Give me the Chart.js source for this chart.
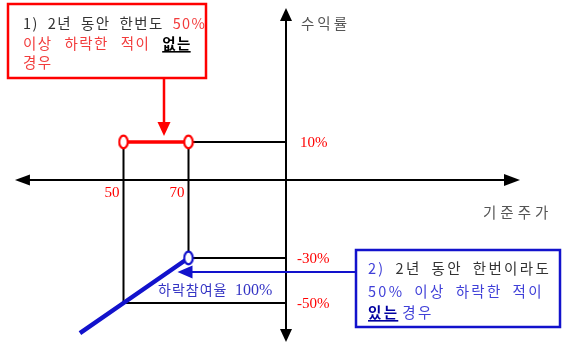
<!DOCTYPE html>
<html>
<head>
<meta charset="utf-8">
<script src="https://cdn.jsdelivr.net/npm/chart.js@4/dist/chart.umd.min.js"></script>
<style>
  html, body { margin: 0; padding: 0; background: #fff; }
  #wrap { width: 562px; height: 343px; }
</style>
</head>
<body>
<div id="wrap"><canvas id="c"></canvas></div>
<script>
// payoff of the ELS, price and return in %
const barrierPrices = [50, 70];
const basePrice = 100;
const returnLevels = [10, -30, -50];
const xTickLabels = ['50', '70'];
const yTickLabels = ['10%', '-30%', '-50%'];

// 1) never fell 50% -> 10% between 50 and 70
const couponX = [50, 70];
const couponY = [10, 10];
// 2) fell 50% at least once -> 100% downside participation
const lossX = [36.6, 50, 70];
const lossY = [-63.4, -50, -30];

// axis ends (arrow tips)
const axisX = [16.6, 172];
const axisY = [-67.3, 45.3];

// the drawing is not to scale on the return axis: value -> fraction of height
const yBreaks = [[47.4, 0], [10, 142 / 343], [0, 180 / 343], [-30, 258 / 343], [-50, 303 / 343], [-67.8, 1]];

class PiecewiseScale extends Chart.LinearScale {
  getPixelForValue(v) {
    const b = yBreaks;
    let i = 0;
    while (i < b.length - 2 && v < b[i + 1][0]) i++;
    const [v0, f0] = b[i], [v1, f1] = b[i + 1];
    const f = f0 + (v - v0) / (v1 - v0) * (f1 - f0);
    return this.top + f * (this.bottom - this.top);
  }
}
PiecewiseScale.id = 'piecewise';
PiecewiseScale.defaults = Chart.LinearScale.defaults;
Chart.register(PiecewiseScale);

const RED = '#ff0000';
const BLUE = '#1212cc';
const KR = '"Noto Sans CJK KR", "Noto Sans", sans-serif';
const SERIF = '"Liberation Serif", serif';

function ring(color) {
  const c = document.createElement('canvas');
  c.width = 12; c.height = 16;
  const g = c.getContext('2d');
  g.beginPath();
  g.ellipse(6, 8, 4.3, 6.3, 0, 0, Math.PI * 2);
  g.fillStyle = '#fff';
  g.fill();
  g.lineWidth = 2.2;
  g.strokeStyle = color;
  g.stroke();
  return c;
}

function seg(x0, y0, x1, y1) {
  return {
    data: [{x: x0, y: y0}, {x: x1, y: y1}],
    borderColor: '#000', borderWidth: 2, pointRadius: 0
  };
}

const guides = [
  seg(barrierPrices[0], returnLevels[0], barrierPrices[0], returnLevels[2]),
  seg(barrierPrices[1], returnLevels[0], barrierPrices[1], returnLevels[1]),
  seg(barrierPrices[1], returnLevels[0], basePrice, returnLevels[0]),
  seg(barrierPrices[1], returnLevels[1], basePrice, returnLevels[1]),
  seg(barrierPrices[0], returnLevels[2], basePrice, returnLevels[2])
];

function runs(ctx, x, y, parts, gap) {
  for (const [text, color, bold, ul] of parts) {
    ctx.font = (bold ? 'bold ' : '') + '14.5px ' + KR;
    ctx.fillStyle = color;
    text.split(' ').forEach((w, k) => {
      if (k > 0) x += gap;
      if (!w) return;
      ctx.fillText(w, x, y);
      const wd = ctx.measureText(w).width;
      if (ul) ctx.fillRect(x, y + 8, wd - 1, 1.6);
      x += wd;
    });
  }
}

function arrowHead(ctx, tx, ty, dx, dy, len, half) {
  // tip at (tx,ty), pointing along (dx,dy)
  const bx = tx - dx * len, by = ty - dy * len;
  ctx.beginPath();
  ctx.moveTo(tx, ty);
  ctx.lineTo(bx - dy * half, by + dx * half);
  ctx.lineTo(bx + dy * half, by - dx * half);
  ctx.closePath();
  ctx.fill();
}

const decor = {
  id: 'decor',
  beforeDatasetsDraw(chart) {
    const {ctx, scales: {x, y}} = chart;
    const ox = x.getPixelForValue(basePrice), oy = y.getPixelForValue(0);
    ctx.save();
    ctx.strokeStyle = '#000';
    ctx.fillStyle = '#000';
    ctx.lineWidth = 2;
    const l = x.getPixelForValue(axisX[0]), r = x.getPixelForValue(axisX[1]);
    const t = y.getPixelForValue(axisY[1]), b = y.getPixelForValue(axisY[0]);
    ctx.beginPath();
    ctx.moveTo(l + 8, oy); ctx.lineTo(r - 8, oy);
    ctx.moveTo(ox, t + 8); ctx.lineTo(ox, b - 8);
    ctx.stroke();
    arrowHead(ctx, l, oy, -1, 0, 15, 5.5);
    arrowHead(ctx, r, oy, 1, 0, 16, 6);
    arrowHead(ctx, ox, t, 0, -1, 13, 6);
    arrowHead(ctx, ox, b, 0, 1, 13, 6);
    ctx.restore();
  },
  afterDatasetsDraw(chart) {
    const {ctx, scales: {x, y}} = chart;
    ctx.save();
    ctx.textBaseline = 'middle';

    // tick labels
    ctx.font = '15px ' + SERIF;
    ctx.fillStyle = RED;
    ctx.textAlign = 'right';
    barrierPrices.forEach((p, i) => {
      ctx.fillText(xTickLabels[i], x.getPixelForValue(p) - 4, y.getPixelForValue(0) + 13);
    });
    ctx.textAlign = 'left';
    const ox = x.getPixelForValue(basePrice);
    returnLevels.forEach((v, i) => {
      ctx.fillText(yTickLabels[i], ox + (v > 0 ? 14 : 11), y.getPixelForValue(v) + 1);
    });

    // axis titles
    ctx.fillStyle = '#555';
    ctx.font = '14.5px ' + KR;
    ctx.letterSpacing = '3px';
    ctx.fillText('수익률', ox + 15, 23);
    ctx.letterSpacing = '4px';
    ctx.fillText('기준주가', 483, 212);

    // participation note
    ctx.fillStyle = '#3434c4';
    ctx.font = '14px ' + KR;
    ctx.letterSpacing = '1px';
    ctx.fillText('하락참여율', 158, 290);
    ctx.font = '16px ' + SERIF;
    ctx.letterSpacing = '0px';
    ctx.fillText('100%', 235, 291);

    // box 1
    ctx.strokeStyle = RED;
    ctx.lineWidth = 2.5;
    ctx.strokeRect(8, 4, 198, 74);
    ctx.letterSpacing = '1.4px';
    const pink = '#f23c3c', dark = '#333';
    runs(ctx, 23, 23, [['1) 2년 동안 한번도 ', dark], ['50%', pink]], 9);
    runs(ctx, 23, 43, [['이상 하락한 적이 ', pink], ['없는', '#000', true, true]], 12);
    runs(ctx, 23, 62, [['경우', pink]], 9);

    // arrow 1
    const ax = 164, tipY = y.getPixelForValue(couponY[0]) - 6;
    ctx.fillStyle = RED;
    ctx.fillRect(ax - 1.25, 78, 2.5, tipY - 78 - 10);
    arrowHead(ctx, ax, tipY, 0, 1, 14, 6.5);

    // box 2
    ctx.strokeStyle = BLUE;
    ctx.strokeRect(356, 250, 204, 77);
    ctx.letterSpacing = '2.3px';
    const lb = '#4040d8';
    runs(ctx, 368, 268, [['2) ', lb], ['2년 동안 한번이라도', dark]], 10);
    runs(ctx, 368, 291, [['50% 이상 하락한 적이', lb]], 10);
    runs(ctx, 368, 312, [['있는', '#0000a0', true, true], [' 경우', lb]], 3);

    // arrow 2
    const tipX = x.getPixelForValue(lossX[2]) - 11, ay = y.getPixelForValue(lossY[2]) + 14;
    ctx.fillStyle = BLUE;
    ctx.fillRect(tipX + 10, ay - 1, 356 - tipX - 10, 2);
    arrowHead(ctx, tipX, ay, -1, 0, 15, 6.5);
    ctx.restore();
  }
};

new Chart(document.getElementById('c'), {
  type: 'scatter',
  data: {
    datasets: [
      {
        data: couponX.map((v, i) => ({x: v, y: couponY[i]})),
        showLine: true,
        borderColor: RED,
        borderWidth: 3.5,
        pointStyle: ring(RED),
        pointRadius: 6
      },
      {
        data: lossX.map((v, i) => ({x: v, y: lossY[i]})),
        showLine: true,
        borderColor: BLUE,
        borderWidth: 4.5,
        pointStyle: ring(BLUE),
        pointRadius: lossX.map((v, i) => i === lossX.length - 1 ? 6 : 0)
      },
      ...guides.map(g => Object.assign(g, {showLine: true}))
    ]
  },
  options: {
    responsive: true,
    maintainAspectRatio: false,
    animation: false,
    layout: { padding: 0, autoPadding: false },
    plugins: { legend: { display: false }, tooltip: { enabled: false } },
    scales: {
      x: { type: 'linear', min: 12, max: 12 + 562 / 3.25, display: false },
      y: { type: 'piecewise', min: -67.8, max: 47.4, display: false }
    }
  },
  plugins: [decor]
});
</script>
</body>
</html>
